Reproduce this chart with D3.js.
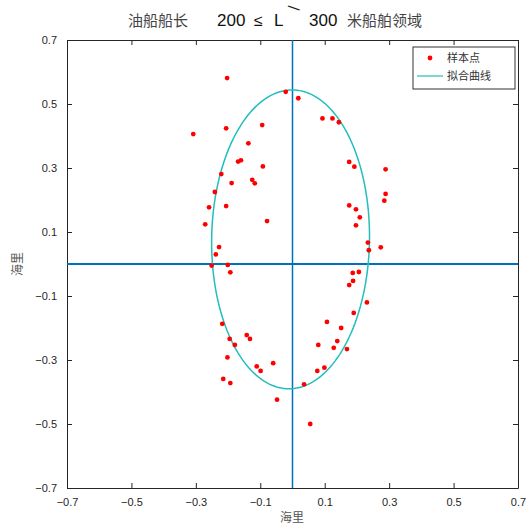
<!DOCTYPE html>
<html>
<head>
<meta charset="utf-8">
<script src="https://cdn.jsdelivr.net/npm/d3@7"></script>
<style>
  body { margin: 0; background: #fff; }
  svg { display: block; }
</style>
</head>
<body>
<svg width="526" height="526"></svg>
<script>
// sample points (nautical miles)
var sampleX = [-0.203, -0.021, 0.018, 0.093, -0.308, -0.206, -0.094, -0.137, -0.169, -0.160,
  -0.092, -0.221, -0.189, -0.125, -0.117, -0.241, -0.259, -0.206, -0.271, -0.079,
  0.124, 0.144, 0.176, 0.192, 0.289, 0.289, 0.285, 0.176, 0.197, 0.209,
  0.197, 0.234, 0.274, 0.237, -0.228, -0.238, -0.251, -0.201, -0.193, -0.218,
  -0.195, -0.179, -0.142, -0.132, -0.202, -0.215, -0.193, -0.111, -0.099, -0.060,
  -0.048, 0.055, 0.036, 0.080, 0.107, 0.077, 0.099, 0.187, 0.206, 0.188,
  0.176, 0.231, 0.190, 0.151, 0.139, 0.128, 0.169];
var sampleY = [0.581, 0.538, 0.518, 0.455, 0.406, 0.424, 0.434, 0.377, 0.320, 0.324,
  0.305, 0.281, 0.253, 0.263, 0.252, 0.225, 0.177, 0.181, 0.124, 0.134,
  0.455, 0.443, 0.319, 0.304, 0.296, 0.219, 0.198, 0.183, 0.171, 0.146,
  0.121, 0.067, 0.052, 0.043, 0.053, 0.030, -0.005, -0.003, -0.026, -0.187,
  -0.234, -0.253, -0.222, -0.234, -0.292, -0.359, -0.372, -0.320, -0.334, -0.310,
  -0.424, -0.500, -0.376, -0.253, -0.181, -0.334, -0.324, -0.028, -0.025, -0.053,
  -0.066, -0.120, -0.153, -0.200, -0.241, -0.262, -0.266];

// fitted ellipse: centre, semi-axes, rotation (rad)
var ellipseCenter = [-0.006, 0.077];
var ellipseAxes = [0.245, 0.467];
var ellipseAngle = -0.0146;

var tickValues = [-0.7, -0.5, -0.3, -0.1, 0.1, 0.3, 0.5, 0.7];

var svg = d3.select("svg");
var plotLeft = 67, plotRight = 518, plotTop = 40, plotBottom = 488;
var axisColor = "#262626";
var font = "Liberation Sans, Arial, sans-serif";

var x = d3.scaleLinear().domain([-0.7, 0.7]).range([plotLeft, plotRight]);
var y = d3.scaleLinear().domain([-0.7, 0.7]).range([plotBottom, plotTop]);

// title
var title = svg.append("text")
  .attr("y", 26)
  .attr("font-size", "15px");
title.append("tspan").attr("x", 128).attr("fill", "#444")
  .attr("font-family", "Noto Sans CJK SC").text("油船船长");
title.append("tspan").attr("x", 217).attr("fill", "#111")
  .attr("font-family", font).attr("font-size", "17px").text("200");
title.append("tspan").attr("x", 254).attr("fill", "#111")
  .attr("font-family", font).attr("font-size", "16px").text("≤");
title.append("tspan").attr("x", 274).attr("fill", "#111")
  .attr("font-family", font).attr("font-size", "17px").text("L");
title.append("tspan").attr("x", 309).attr("fill", "#111")
  .attr("font-family", font).attr("font-size", "17px").text("300");
title.append("tspan").attr("x", 347).attr("fill", "#444")
  .attr("font-family", "Noto Sans CJK SC").text("米船舶领域");
// the raised stroke between L and 300
svg.append("text")
  .attr("transform", "translate(294,8) rotate(-56)")
  .attr("text-anchor", "middle")
  .attr("dominant-baseline", "central")
  .attr("font-size", "16px").attr("fill", "#222")
  .attr("font-family", font)
  .text("\\");

// axes (box with inward ticks on all sides)
var g = svg.append("g");

g.append("g")
  .attr("transform", "translate(0," + plotBottom + ")")
  .call(d3.axisBottom(x).tickValues(tickValues).tickSizeInner(-5).tickSizeOuter(0).tickPadding(10).tickFormat(d3.format(".1f")));
g.append("g")
  .attr("transform", "translate(0," + plotTop + ")")
  .call(d3.axisTop(x).tickValues(tickValues).tickSizeInner(-5).tickSizeOuter(0).tickFormat(""));
g.append("g")
  .attr("transform", "translate(" + plotLeft + ",0)")
  .call(d3.axisLeft(y).tickValues(tickValues).tickSizeInner(-5).tickSizeOuter(0).tickPadding(10).tickFormat(d3.format(".1f")));
g.append("g")
  .attr("transform", "translate(" + plotRight + ",0)")
  .call(d3.axisRight(y).tickValues(tickValues).tickSizeInner(-5).tickSizeOuter(0).tickFormat(""));

g.selectAll(".domain, .tick line").attr("stroke", axisColor);
g.selectAll(".tick text").attr("fill", axisColor).attr("font-size", "11px").attr("font-family", font);

// reference cross lines
svg.append("line")
  .attr("x1", x(-0.7)).attr("x2", x(0.7))
  .attr("y1", y(0)).attr("y2", y(0))
  .attr("stroke", "#0072BD").attr("stroke-width", 2);
svg.append("line")
  .attr("x1", x(0)).attr("x2", x(0))
  .attr("y1", y(0.7)).attr("y2", y(-0.7))
  .attr("stroke", "#0072BD").attr("stroke-width", 1.5);

// fitted ellipse
var ts = d3.range(0, 361, 2).map(function (d) { return d * Math.PI / 180; });
var ell = ts.map(function (t) {
  var ex = ellipseAxes[0] * Math.cos(t), ey = ellipseAxes[1] * Math.sin(t);
  return [
    ellipseCenter[0] + ex * Math.cos(ellipseAngle) - ey * Math.sin(ellipseAngle),
    ellipseCenter[1] + ex * Math.sin(ellipseAngle) + ey * Math.cos(ellipseAngle)
  ];
});
svg.append("path")
  .datum(ell)
  .attr("fill", "none")
  .attr("stroke", "#22BDBD")
  .attr("stroke-width", 1.5)
  .attr("d", d3.line().x(function (d) { return x(d[0]); }).y(function (d) { return y(d[1]); }));

// sample points
svg.selectAll(".pt")
  .data(sampleX)
  .enter()
  .append("circle")
  .attr("class", "pt")
  .attr("cx", function (d) { return x(d); })
  .attr("cy", function (d, i) { return y(sampleY[i]); })
  .attr("r", 2.4)
  .attr("fill", "#FF0000");

// axis titles
svg.append("text")
  .attr("x", 292).attr("y", 522)
  .attr("text-anchor", "middle")
  .attr("font-size", "12px").attr("fill", "#555")
  .attr("font-family", "Noto Sans CJK SC")
  .text("海里");
svg.append("text")
  .attr("transform", "translate(22,264) rotate(-90)")
  .attr("text-anchor", "middle")
  .attr("font-size", "12px").attr("fill", "#555")
  .attr("font-family", "Noto Sans CJK SC")
  .text("海里");

// legend
var lg = svg.append("g").attr("transform", "translate(413,47)");
lg.append("rect")
  .attr("width", 102).attr("height", 42)
  .attr("fill", "#fff").attr("stroke", "#333").attr("stroke-width", 1);
lg.append("circle").attr("cx", 17).attr("cy", 11).attr("r", 2.4).attr("fill", "#FF0000");
lg.append("text").attr("x", 34).attr("y", 15)
  .attr("font-size", "11px").attr("fill", "#333").attr("font-family", "Noto Sans CJK SC")
  .text("样本点");
lg.append("line").attr("x1", 4).attr("x2", 30).attr("y1", 29).attr("y2", 29)
  .attr("stroke", "#22BDBD").attr("stroke-width", 1.2);
lg.append("text").attr("x", 34).attr("y", 33)
  .attr("font-size", "11px").attr("fill", "#333").attr("font-family", "Noto Sans CJK SC")
  .text("拟合曲线");
</script>
</body>
</html>
